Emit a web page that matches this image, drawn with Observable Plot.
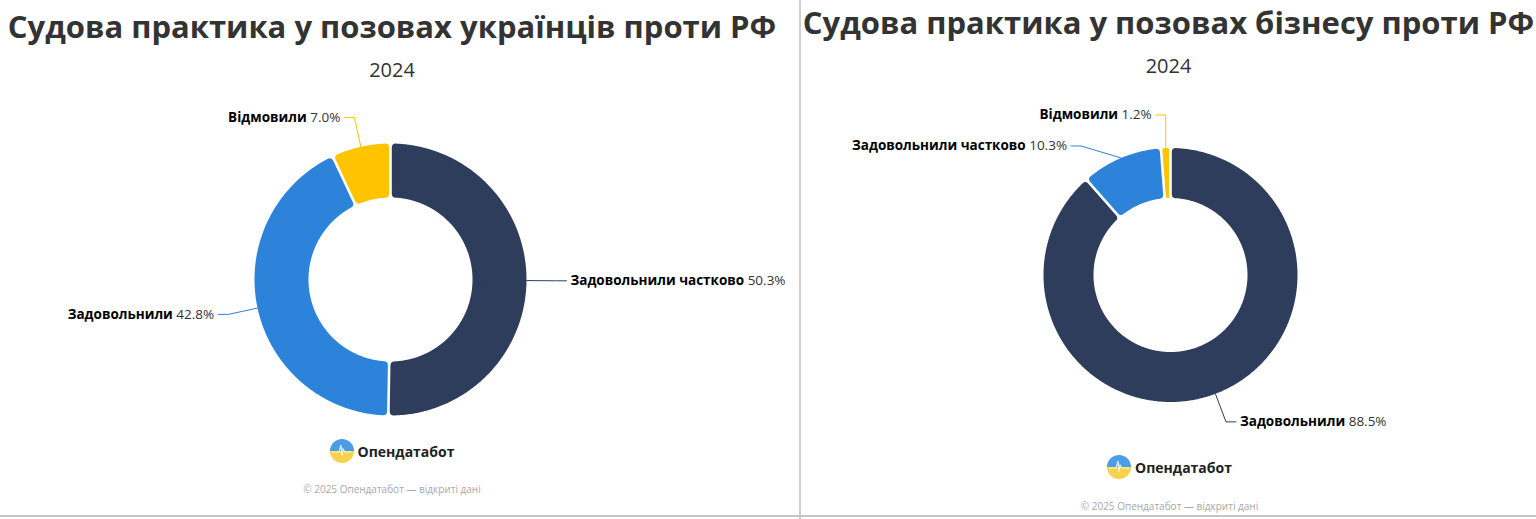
<!DOCTYPE html>
<html><head><meta charset="utf-8">
<script src="https://cdn.jsdelivr.net/npm/d3@7"></script>
<script src="https://cdn.jsdelivr.net/npm/@observablehq/plot@0.6"></script>
<style>
body{margin:0;background:#fff;font-family:"Open Sans",sans-serif;}
#page{position:relative;width:1536px;height:519px;overflow:hidden;background:#fff;}
.panel{position:absolute;top:0;height:519px;}
.title{position:absolute;left:0;right:0;text-align:center;font-weight:700;color:#333;white-space:nowrap;font-size:31px;line-height:31px;}
.sub{position:absolute;left:0;right:0;text-align:center;color:#333;font-size:20px;line-height:20px;}
.chart{position:absolute;left:0;top:90px;}
.logo{position:absolute;left:0;right:0;display:flex;justify-content:center;align-items:center;gap:4px;font-weight:700;font-size:14px;color:#222;}
.foot{position:absolute;left:0;right:0;text-align:center;color:#a8a8a8;font-size:10px;}
#vline{position:absolute;left:799px;top:0;width:2px;height:519px;background:#cfcfcf;}
#hline{position:absolute;left:0;top:515px;width:1536px;height:2px;background:#c6c6c6;}
</style></head>
<body><div id="page"></div>
<script>
// ---- data ----
const leftTitle = "Судова практика у позовах українців проти РФ";
const rightTitle = "Судова практика у позовах бізнесу проти РФ";
const yearLabel = "2024";
const leftCategories = ["Задовольнили частково", "Задовольнили", "Відмовили"];
const leftValues = [50.3, 42.8, 7.0];
const rightCategories = ["Задовольнили", "Задовольнили частково", "Відмовили"];
const rightValues = [88.5, 10.3, 1.2];
const brand = "Опендатабот";
const credit = "© 2025 Опендатабот — відкриті дані";
const palette = ["#2e3d5c", "#2d82da", "#ffc300"];

const page = document.getElementById("page");
const canvas = document.createElement("canvas");
const ctx = canvas.getContext("2d");
function measure(text, font) { ctx.font = font; return ctx.measureText(text).width; }

const LABEL_SIZE = 13.5;
const FONT = "'Open Sans'";

function slicePoly(s, cx, cy, R, rIn) {
  const gh = 1.3;
  const rho = Math.max(0.5, Math.min(4, (s.a1 - s.a0) * rIn / 2 - gh));
  const ro = R - rho, ri = rIn + rho;
  const pts = [];
  const arc = (rad, rev) => {
    let d = (rho + gh) / rad;
    let b0 = s.a0 + d, b1 = s.a1 - d;
    if (b0 > b1) { b0 = b1 = (s.a0 + s.a1) / 2; }
    const n = Math.max(1, Math.ceil((b1 - b0) / 0.01));
    const out = [];
    for (let k = 0; k <= n; k++) {
      const t = b0 + (b1 - b0) * k / n;
      out.push({x: cx + rad * Math.sin(t), y: cy - rad * Math.cos(t)});
    }
    return rev ? out.reverse() : out;
  };
  pts.push(...arc(ro, false), ...arc(ri, true));
  return {pts, rho};
}

function donut(cats, vals, W, H, cx, cy, R, rIn, dist) {
  const total = d3.sum(vals);
  let acc = 0;
  const slices = cats.map((c, i) => {
    const a0 = acc / total * 2 * Math.PI;
    acc += vals[i];
    const a1 = acc / total * 2 * Math.PI;
    return {key: c, value: vals[i], a0, a1, mid: (a0 + a1) / 2, color: palette[i]};
  });
  const sliceMarks = slices.map(s => {
    const {pts, rho} = slicePoly(s, cx, cy, R, rIn);
    return Plot.line(pts, {x: "x", y: "y", fill: s.color, stroke: s.color, strokeWidth: 2 * rho,
      strokeLinejoin: "round", curve: "linear-closed"});
  });
  // labels
  const rl = R + dist;
  const labels = slices.map(s => ({
    ...s,
    left: Math.sin(s.mid) < 0,
    px: cx + R * Math.sin(s.mid),
    py: cy - R * Math.cos(s.mid),
    y: cy - rl * Math.cos(s.mid)
  }));
  const gap = 31;
  for (const side of [true, false]) {
    const g = labels.filter(l => l.left === side).sort((a, b) => a.y - b.y);
    for (let i = 1; i < g.length; i++) {
      const dd = g[i].y - g[i - 1].y;
      if (dd < gap) { const sh = gap - dd; g[i - 1].y -= sh / 6; g[i].y += 5 * sh / 6; }
    }
  }
  const conn = [];
  const texts = [];
  for (const l of labels) {
    const dy = l.y - cy;
    const x = cx + (l.left ? -1 : 1) * Math.sqrt(Math.max(0, rl * rl - dy * dy));
    const crookX = l.left ? Math.min(x, l.px) : Math.max(x, l.px);
    const endX = crookX + (l.left ? -10 : 10);
    conn.push({key: l.key, color: l.color, x: l.px, y: l.py});
    conn.push({key: l.key, color: l.color, x: crookX, y: l.y});
    conn.push({key: l.key, color: l.color, x: endX, y: l.y});
    const name = l.key;
    const val = l.value.toFixed(1) + "%";
    const nw = measure(name, `bold ${LABEL_SIZE}px ${FONT}`);
    const vw = measure(val, `${LABEL_SIZE}px ${FONT}`);
    const sw = measure(" ", `${LABEL_SIZE}px ${FONT}`);
    const tx = endX + (l.left ? -4 : 4);
    const startX = l.left ? tx - vw - sw - nw : tx;
    texts.push({name, val, nx: startX, vx: startX + nw + sw, y: l.y});
  }
  return Plot.plot({
    width: W, height: H, margin: 0,
    style: {background: "transparent", overflow: "visible"},
    x: {domain: [0, W], range: [0, W], axis: null},
    y: {domain: [0, H], range: [0, H], axis: null},
    color: {type: "identity"},
    marks: [
      ...sliceMarks,
      Plot.line(conn, {x: "x", y: "y", z: "key", stroke: "color", strokeWidth: 1, curve: "linear"}),
      Plot.text(texts, {x: "nx", y: "y", text: "name", textAnchor: "start", fontWeight: "bold", fontSize: LABEL_SIZE, fontFamily: "Open Sans", fill: "#000", stroke: "#fff", strokeWidth: 2}),
      Plot.text(texts, {x: "vx", y: "y", text: "val", textAnchor: "start", fontSize: LABEL_SIZE, fontFamily: "Open Sans", fill: "#333", stroke: "#fff", strokeWidth: 2})
    ]
  });
}

let logoId = 0;
function logoSvg() {
  const id = "lc" + (logoId++);
  return `<svg width="24" height="24" viewBox="0 0 24 24">
  <clipPath id="${id}"><circle cx="12" cy="12" r="12"/></clipPath>
  <g clip-path="url(#${id})"><rect x="0" y="0" width="24" height="12" fill="#4a9de6"/><rect x="0" y="12" width="24" height="12" fill="#f7d24a"/></g>
  <polyline points="2,13 9,13 11,6 12,17 13,10 15,13 22,13" fill="none" stroke="#fff" stroke-width="1.2" opacity="0.8"/></svg>`;
}

function panel(left, width, cfg) {
  const p = document.createElement("div");
  p.className = "panel";
  p.style.left = left + "px";
  p.style.width = width + "px";
  p.innerHTML = `<div class="title" style="top:${cfg.titleTop}px">${cfg.title}</div>
    <div class="sub" style="top:${cfg.subTop}px">${yearLabel}</div>
    <div class="logo" style="top:${cfg.logoTop}px;left:${cfg.logoShift}px">${logoSvg()}<span>${brand}</span></div>
    <div class="foot" style="top:${cfg.footTop}px;left:${cfg.logoShift}px">${credit}</div>`;
  const chart = document.createElement("div");
  chart.className = "chart";
  chart.appendChild(donut(cfg.cats, cfg.vals, width, 340, cfg.cx, cfg.cy, cfg.R, cfg.r, 30));
  p.appendChild(chart);
  page.appendChild(p);
}

panel(0, 784, {title: leftTitle, titleTop: 11, subTop: 60, logoTop: 439, footTop: 482, logoShift: 0,
  cats: leftCategories, vals: leftValues, cx: 390, cy: 189, R: 136, r: 82});
panel(801, 735, {title: rightTitle, titleTop: 7, subTop: 56, logoTop: 455, footTop: 499, logoShift: 2,
  cats: rightCategories, vals: rightValues, cx: 369, cy: 184.5, R: 127, r: 77});

const v = document.createElement("div"); v.id = "vline"; page.appendChild(v);
const h = document.createElement("div"); h.id = "hline"; page.appendChild(h);
</script>
</body></html>
